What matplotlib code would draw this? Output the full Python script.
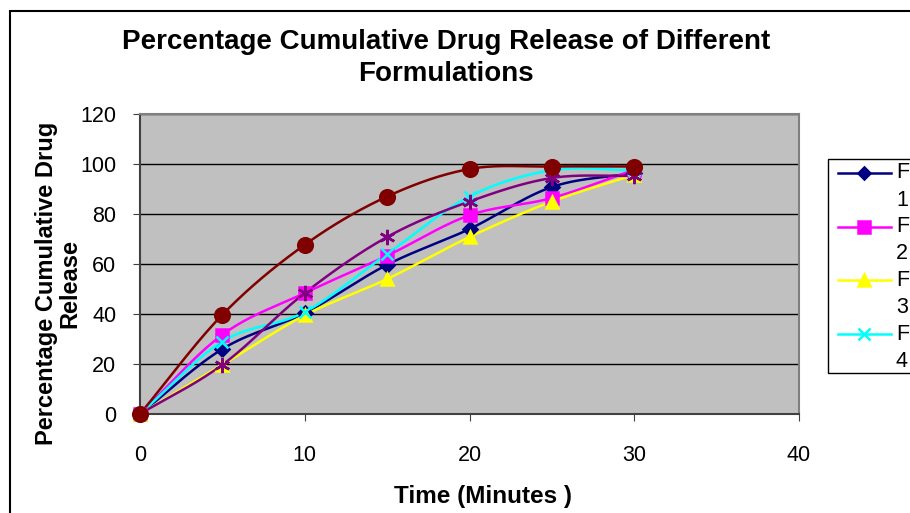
import numpy as np
import matplotlib
matplotlib.use("Agg")
import matplotlib.pyplot as plt
from matplotlib.patches import Rectangle
from matplotlib.lines import Line2D

time_min = [0, 5, 10, 15, 20, 25, 30]
F1 = [0, 26, 40.4, 59.7, 74, 90.8, 96.4]
F2 = [0, 31.7, 48.4, 63.3, 79.5, 86.4, 97.7]
F3 = [0, 19.7, 39.5, 54, 70.8, 85, 95.7]
F4 = [0, 29, 40.8, 64, 87, 97.5, 97.5]
F5 = [0, 19.7, 48.4, 70.8, 85, 94.4, 95.3]
F6 = [0, 39.7, 67.7, 87, 98, 99, 99]
series_names = ["F1", "F2", "F3", "F4", "F5", "F6"]
legend_top = ["F", "F", "F", "F"]
legend_bottom = ["1", "2", "3", "4"]
x_ticks = [0, 10, 20, 30, 40]
y_ticks = [0, 20, 40, 60, 80, 100, 120]

plt.rcParams['font.family'] = ['Liberation Sans', 'DejaVu Sans']

colors = ["#000080", "#FF00FF", "#FFFF00", "#00FFFF", "#800080", "#800000"]
markers = ["D", "s", "^", "x", (6, 2, 0), "o"]
msizes = [7, 9, 9, 9, 11, 10.5]


def smooth(x, y, n=30):
    # Catmull-Rom curve through the points (rendering only)
    x = np.asarray(x, float)
    y = np.asarray(y, float)
    px = np.concatenate([[2 * x[0] - x[1]], x, [2 * x[-1] - x[-2]]])
    py = np.concatenate([[2 * y[0] - y[1]], y, [2 * y[-1] - y[-2]]])
    ox, oy = [], []
    t = np.linspace(0, 1, n)
    for i in range(1, len(px) - 2):
        for arr, out in ((px, ox), (py, oy)):
            p0, p1, p2, p3 = arr[i - 1], arr[i], arr[i + 1], arr[i + 2]
            out.extend(0.5 * ((2 * p1) + (-p0 + p2) * t
                              + (2 * p0 - 5 * p1 + 4 * p2 - p3) * t ** 2
                              + (-p0 + 3 * p1 - 3 * p2 + p3) * t ** 3))
    return np.array(ox), np.array(oy)


W, H = 910, 513
fig = plt.figure(figsize=(W / 100, H / 100), dpi=100)
ax = fig.add_axes([140 / W, 1 - 414 / H, (799 - 140) / W, 300 / H])
ax.set_facecolor("#C0C0C0")

data = [F1, F2, F3, F4, F5, F6]
for vals, c, m, ms in zip(data, colors, markers, msizes):
    sx, sy = smooth(time_min, vals)
    ax.plot(sx, sy, color=c, lw=1.8, zorder=3)
    ax.plot(time_min, vals, linestyle="none", marker=m, color=c, ms=ms,
            mew=1.8, zorder=4, clip_on=False)

ax.set_xlim(0, 40)
ax.set_ylim(0, 120)
ax.set_xticks(x_ticks)
ax.set_yticks(y_ticks)
ax.tick_params(axis="both", labelsize=15.5, direction="out", length=5,
               color="#404040")
ax.tick_params(axis="y", pad=12)
ax.tick_params(axis="x", pad=17)
ax.yaxis.grid(True, color="black", lw=1)
ax.set_axisbelow(True)
for s in ax.spines.values():
    s.set_color("#808080")
    s.set_linewidth(1.5)
ax.spines["left"].set_color("#404040")
ax.spines["bottom"].set_color("#404040")

fig.text(446 / W, 1 - 42 / H, "Percentage Cumulative Drug Release of Different",
         ha="center", va="center", fontsize=20, fontweight="bold")
fig.text(446 / W, 1 - 74 / H, "Formulations",
         ha="center", va="center", fontsize=20, fontweight="bold")
fig.text(58 / W, 1 - 283 / H, "Percentage Cumulative Drug\nRelease",
         ha="center", va="center", rotation=90, fontsize=17, fontweight="bold",
         linespacing=1.05)
fig.text(483 / W, 1 - 497 / H, "Time (Minutes )",
         ha="center", va="center", fontsize=17.5, fontweight="bold")

# legend (drawn by hand, cut off at the right edge as in the reference)
fig.patches.append(Rectangle((828 / W, 1 - 373 / H), 0.2, (373 - 159) / H,
                             transform=fig.transFigure, facecolor="white",
                             edgecolor="black", lw=1, zorder=5))
for i in range(4):
    yf = 173 + 53.7 * i
    fig.add_artist(Line2D([838 / W, 891 / W], [1 - yf / H, 1 - yf / H],
                          transform=fig.transFigure, color=colors[i], lw=1.8,
                          zorder=6))
    fig.add_artist(Line2D([864 / W], [1 - yf / H], transform=fig.transFigure,
                          color=colors[i], marker=markers[i], ms=msizes[i] * 0.9,
                          mew=1.8, linestyle="none", zorder=6))
    fig.text(896 / W, 1 - yf / H, legend_top[i], ha="left", va="center",
             fontsize=15.5, zorder=7)
    fig.text(896 / W, 1 - (yf + 27) / H, legend_bottom[i], ha="left",
             va="center", fontsize=15.5, zorder=7)

fig.patches.append(Rectangle((10 / W, -0.1), 1.2, (H - 11) / H + 0.1,
                             transform=fig.transFigure, fill=False,
                             edgecolor="black", lw=1.5, clip_on=False))

fig.savefig("out.png", dpi=100)
